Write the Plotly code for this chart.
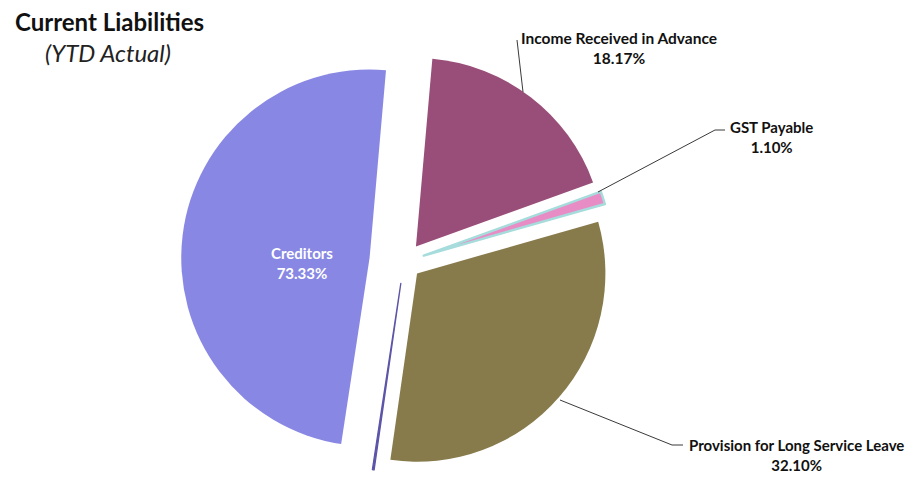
import plotly.graph_objects as go

# ---- data ----
categories = ["Income Received in Advance", "GST Payable",
              "Provision for Long Service Leave", "Other", "Creditors"]
# angular share of each slice as drawn (percent of the circle)
slice_share = [18.1, 1.1, 31.7, 0.15, 49.0]
# percentages printed on the labels
label_pct = ["18.17%", "1.10%", "32.10%", "", "73.33%"]

# ---- styling ----
W, H = 918, 477
OFF = 8  # page body margin of the browser
colors = ["#984e78", "#e88cc6", "#877b4c", "#5c55a8", "#8888e4"]
line_colors = ["#984e78", "#a6dcdc", "#877b4c", "#5c55a8", "#8888e4"]
line_widths = [0, 2.4, 0, 1.3, 0]
pulls = [0.104, 0.11, 0.092, 0.115, 0.184]
FONT = "Lato"

def px(x):
    """screen pixel x -> paper fraction"""
    return (x - OFF) / W

def py(y):
    """screen pixel y -> paper fraction"""
    return 1 - (y - OFF) / H

fig = go.Figure()
fig.add_trace(go.Pie(
    labels=categories,
    values=slice_share,
    sort=False,
    direction="clockwise",
    rotation=5,
    pull=pulls,
    marker=dict(colors=colors, line=dict(color=line_colors, width=line_widths)),
    textinfo="none",
    domain=dict(x=[173 / W, 619 / W], y=[0, 446 / H]),
    showlegend=False,
    hoverinfo="skip",
))

# leader lines (screen pixels)
leaders = [
    [(523, 92), (517, 40)],
    [(598, 192), (715, 130), (725, 130)],
    [(560, 400), (672, 445), (683, 445)],
]
for pts in leaders:
    for (x0, y0), (x1, y1) in zip(pts[:-1], pts[1:]):
        fig.add_shape(type="line", xref="paper", yref="paper",
                      x0=px(x0), y0=py(y0), x1=px(x1), y1=py(y1),
                      line=dict(color="#3a3a3a", width=1))

label_spots = {
    "Income Received in Advance": (619, 48, "#111111", 15.5),
    "GST Payable": (771, 137, "#111111", 15),
    "Provision for Long Service Leave": (796, 455, "#111111", 15),
    "Creditors": (302, 263, "white", 15),
}
for c, p in zip(categories, label_pct):
    if c not in label_spots:
        continue
    sx, sy, col, fs = label_spots[c]
    fig.add_annotation(x=px(sx), y=py(sy), xref="paper", yref="paper",
                       text=f"{c}<br>{p}", showarrow=False, align="center",
                       xanchor="center", yanchor="middle",
                       font=dict(family=FONT, size=fs, color=col, weight="bold"))

# title
fig.add_annotation(x=px(13), y=py(22), xref="paper", yref="paper",
                   text="Current Liabilities", showarrow=False,
                   xanchor="left", yanchor="middle",
                   font=dict(family=FONT, size=24, color="#111111", weight="bold"))
fig.add_annotation(x=px(43), y=py(53), xref="paper", yref="paper",
                   text="<i>(YTD Actual)</i>", showarrow=False,
                   xanchor="left", yanchor="middle",
                   font=dict(family=FONT, size=24, color="#222222"))

fig.update_layout(width=W, height=H, margin=dict(l=0, r=0, t=0, b=0),
                  paper_bgcolor="white", plot_bgcolor="white")

fig.write_html("out.html")
